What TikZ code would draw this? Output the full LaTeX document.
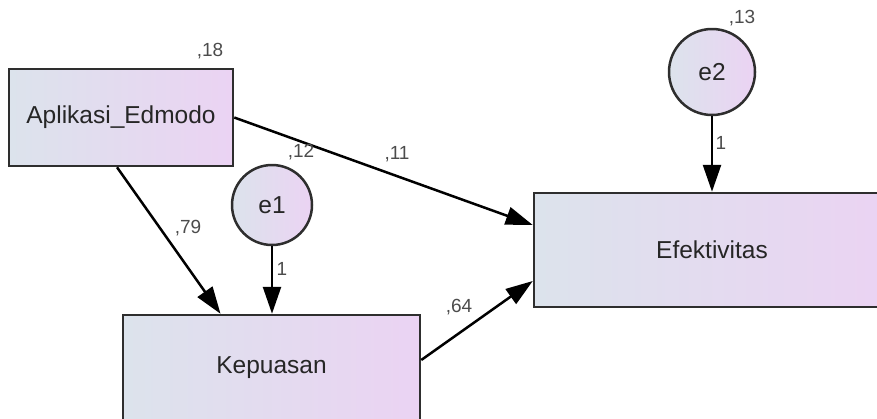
\documentclass[tikz,border=0pt]{standalone}
\usepackage{fontspec}
\setmainfont{Liberation Sans}
\usepackage{xcolor}
\definecolor{Steel Mist}{HTML}{DCE3EC}
\definecolor{Lilac}{HTML}{EBD3F3}
\definecolor{Graphite}{HTML}{2E2E2E}
\colorlet{cLeft}{Steel Mist}
\colorlet{cRight}{Lilac}
\colorlet{cFrame}{Graphite}
\usepackage{tikz}
\usetikzlibrary{calc, positioning, arrows.meta, shapes}
\tikzset{
	line width = 2pt,
	font = \fontsize{24.5}{28}\selectfont,
	observed/.style={
		draw=cFrame,
		rectangle,
		line width=2.5pt,
		left color=cLeft,
		right color=cRight,
		text=black!85,
		inner sep=0pt
	},
	residual/.style={
		draw=cFrame,
		circle,
		line width=2.5pt,
		left color=cLeft,
		right color=cRight,
		text=black!85,
		inner sep=0pt
	},
	coef/.style={
		text=black!70,
		font=\fontsize{19}{21}\selectfont,
		inner sep=0pt
	},
	edge/.style={
		-{Triangle[length=27pt,width=18pt]},
		line width=2.5pt
	}
}

\begin{document}
\begin{tikzpicture}[x=1pt, y=-1pt]
\useasboundingbox (0,0) rectangle (877,418);

% ---
% Observed variables
% ---
\node[observed, minimum width=224pt, minimum height=97pt] (aplikasi) at (121,117.5) {Aplikasi\_Edmodo};
\node[observed, minimum width=297pt, minimum height=106pt] (kepuasan) at (271.5,368) {Kepuasan};
\node[observed, minimum width=356pt, minimum height=114pt] (efektivitas) at (712,250) {Efektivitas};

% ---
% Error terms
% ---
\node[residual, minimum size=80pt] (e1) at (272,205) {e1};
\node[residual, minimum size=86pt] (e2) at (712,72) {e2};

% ---
% Paths
% ---
\draw[edge] (e1.south) -- (e1.south |- kepuasan.north);
\draw[edge] (e2.south) -- (e2.south |- efektivitas.north);
\draw[edge] (aplikasi.east) -- ([yshift=25pt]efektivitas.west);
\draw[edge] ([xshift=-4pt]aplikasi.south) -- ([xshift=-51pt]kepuasan.north);
\draw[edge] ([yshift=8pt]kepuasan.east) -- ([yshift=-31pt]efektivitas.west);

% ---
% Estimates
% ---
\node[coef] (r2-aplikasi) at (210,51) {,18};
\node[coef] (r2-kepuasan) at (301,152) {,12};
\node[coef] (r2-efektivitas) at (742,18) {,13};
\node[coef] (w-ae) at (397,154) {,11};
\node[coef] (w-ak) at (188,228) {,79};
\node[coef] (w-ke) at (459,307) {,64};
\node[coef] (w-e1) at (282,269) {1};
\node[coef] (w-e2) at (721,143) {1};
\end{tikzpicture}
\end{document}
